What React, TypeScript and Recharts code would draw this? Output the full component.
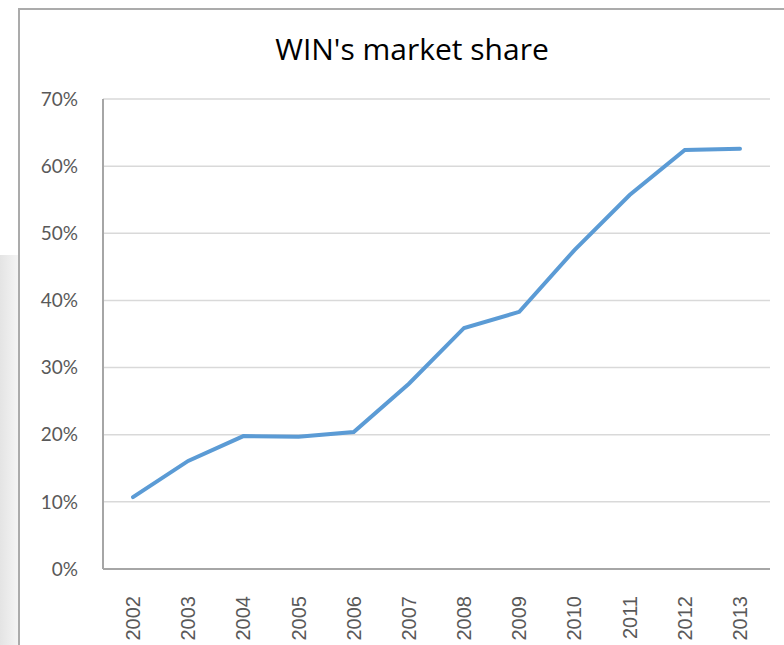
import React from 'react';
import { LineChart, Line, XAxis, YAxis, CartesianGrid } from 'recharts';

const years = ['2002', '2003', '2004', '2005', '2006', '2007', '2008', '2009', '2010', '2011', '2012', '2013'];
const shareValues = [10.7, 16.1, 19.8, 19.7, 20.4, 27.6, 35.9, 38.3, 47.5, 55.7, 62.4, 62.6];
const yTicks = [0, 10, 20, 30, 40, 50, 60, 70];

const data = years.map((year, i) => ({ year, share: shareValues[i] }));

const FONT = 'Lato, "Open Sans", sans-serif';
const YEAR_FONT = '"Liberation Sans", Arial, sans-serif';

function YearTick(props: any) {
  const { x, y, payload } = props;
  const ty = y + 19;
  return (
    <text
      x={x}
      y={ty}
      transform={`rotate(-90, ${x}, ${ty})`}
      textAnchor="end"
      dominantBaseline="central"
      fill="#595959"
      fontSize={20}
      fontFamily={YEAR_FONT}
    >
      {payload.value}
    </text>
  );
}

export default function App() {
  return (
    <div style={{ position: 'absolute', left: 0, top: 0, width: 784, height: 645, background: '#fff', overflow: 'hidden' }}>
      {/* grey strip left of the chart box */}
      <div
        style={{
          position: 'absolute', left: 0, top: 255, width: 18, height: 390,
          background: 'linear-gradient(to right, #e4e4e4, #f4f4f4)',
        }}
      />
      <div
        style={{
          position: 'absolute', left: 18, top: 8, width: 780, height: 650,
          borderLeft: '2px solid #ababab', borderTop: '2px solid #ababab',
          boxSizing: 'border-box', background: '#fff',
        }}
      >
        <div
          style={{
            position: 'absolute', left: 0, width: 784, top: 18, textAlign: 'center',
            fontFamily: '"Open Sans", sans-serif', fontSize: 30, color: '#000',
          }}
        >
          WIN's market share
        </div>
        <div style={{ position: 'absolute', left: -2, top: -2 }}>
          <LineChart width={766} height={637} data={data} margin={{ top: 91, right: 14, bottom: 6, left: 0 }}>
            <CartesianGrid horizontal vertical={false} stroke="#d9d9d9" strokeWidth={1.5} />
            <XAxis
              dataKey="year"
              padding={{ left: 30, right: 30 }}
              axisLine={{ stroke: '#a6a6a6', strokeWidth: 2 }}
              tickLine={false}
              height={70}
              interval={0}
              tick={<YearTick />}
            />
            <YAxis
              domain={[0, 70]}
              ticks={yTicks}
              width={85}
              axisLine={{ stroke: '#a6a6a6', strokeWidth: 2 }}
              tickLine={false}
              tickSize={0}
              tickMargin={25}
              tickFormatter={(v: number) => `${v}%`}
              tick={{ fill: '#595959', fontSize: 19, fontFamily: FONT }}
            />
            <Line
              type="linear"
              dataKey="share"
              stroke="#5b9bd5"
              strokeWidth={4}
              dot={false}
              strokeLinecap="round"
              isAnimationActive={false}
            />
          </LineChart>
        </div>
      </div>
    </div>
  );
}
